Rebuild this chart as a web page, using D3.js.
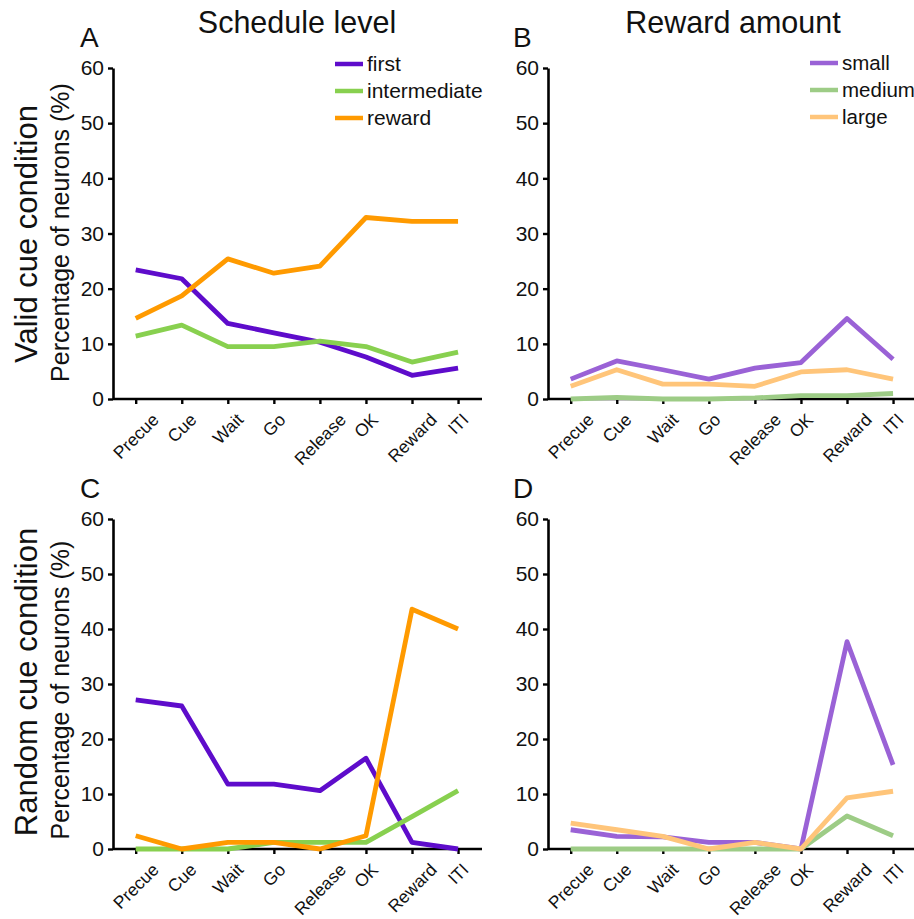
<!DOCTYPE html>
<html>
<head>
<meta charset="utf-8">
<script src="https://cdn.jsdelivr.net/npm/d3@7"></script>
<style>
  html, body { margin: 0; padding: 0; background: #fff; }
  svg { display: block; }
  text { font-family: "Liberation Sans", Arial, Helvetica, sans-serif; fill: #111; }
</style>
</head>
<body>
<svg id="chart" width="914" height="919"></svg>
<script>
// Task epochs along the x axis
const epochs = ["Precue", "Cue", "Wait", "Go", "Release", "OK", "Reward", "ITI"];
const yTicks = [0, 10, 20, 30, 40, 50, 60];

// Schedule-level selectivity (% of neurons)
const scheduleNames = ["first", "intermediate", "reward"];
const validFirst        = [23.4, 21.8, 13.7, 12.0, 10.3, 7.6, 4.3, 5.6];
const validIntermediate = [11.4, 13.4, 9.5, 9.5, 10.5, 9.5, 6.7, 8.5];
const validReward       = [14.6, 18.7, 25.4, 22.8, 24.1, 32.9, 32.2, 32.2];
const randomFirst        = [27.1, 26.0, 11.8, 11.8, 10.6, 16.5, 1.2, 0];
const randomIntermediate = [0, 0, 0, 1.2, 1.2, 1.2, 5.9, 10.6];
const randomReward       = [2.4, 0, 1.2, 1.2, 0, 2.4, 43.6, 40.0];

// Reward-amount selectivity (% of neurons)
const amountNames = ["small", "medium", "large"];
const validSmall  = [3.6, 6.9, 5.3, 3.6, 5.6, 6.6, 14.6, 7.2];
const validMedium = [0, 0.3, 0, 0, 0.2, 0.6, 0.6, 1.0];
const validLarge  = [2.3, 5.3, 2.7, 2.7, 2.3, 4.9, 5.3, 3.6];
const randomSmall  = [3.5, 2.3, 2.2, 1.2, 1.2, 0, 37.7, 15.3];
const randomMedium = [0, 0, 0, 0, 0, 0, 6.0, 2.4];
const randomLarge  = [4.7, 3.5, 2.3, 0, 1.2, 0, 9.3, 10.5];

const scheduleColors = ["#5e0ccb", "#88d04f", "#ff9a00"];
const amountColors   = ["#9a62d6", "#9dcc86", "#ffc57a"];

const panels = [
  { letter: "A", left: 113, right: 482, top: 68, bottom: 399,
    series: [validFirst, validIntermediate, validReward], names: scheduleNames, colors: scheduleColors, legend: { x: 335, y: 64, size: 21 } },
  { letter: "B", left: 548, right: 916, top: 68, bottom: 399,
    series: [validSmall, validMedium, validLarge], names: amountNames, colors: amountColors, legend: { x: 810, y: 63, size: 20.5 } },
  { letter: "C", left: 113, right: 482, top: 519, bottom: 849,
    series: [randomFirst, randomIntermediate, randomReward], names: scheduleNames, colors: scheduleColors, legend: null },
  { letter: "D", left: 548, right: 916, top: 519, bottom: 849,
    series: [randomSmall, randomMedium, randomLarge], names: amountNames, colors: amountColors, legend: null }
];

const labelSize = 17.5;
const svg = d3.select("#chart");

panels.forEach(p => {
  const g = svg.append("g");
  const x = d3.scalePoint().domain(epochs)
    .range([p.left + 22.7, p.left + 22.7 + 7 * 46.05]);
  const y = d3.scaleLinear().domain([0, 60]).range([p.bottom, p.top]);

  // y axis
  const yAxis = g.append("g").attr("transform", `translate(${p.left},0)`)
    .call(d3.axisLeft(y).tickValues(yTicks).tickSize(5).tickPadding(4).tickSizeOuter(0));
  yAxis.select(".domain").attr("stroke", "#000").attr("stroke-width", 2.6);
  yAxis.selectAll(".tick line").attr("stroke", "#000").attr("stroke-width", 2.4);
  yAxis.selectAll(".tick text").attr("font-size", 21).attr("fill", "#111")
    .style("font-family", "'Liberation Sans', Arial, sans-serif");

  // x axis
  const xAxis = g.append("g").attr("transform", `translate(0,${p.bottom})`)
    .call(d3.axisBottom(x).tickSize(5).tickSizeOuter(0).tickFormat(""));
  xAxis.select(".domain").attr("d", `M${p.left},0H${p.right}`)
    .attr("stroke", "#000").attr("stroke-width", 2.6);
  xAxis.selectAll(".tick line").attr("stroke", "#000").attr("stroke-width", 2.4);

  // rotated epoch labels: box centred on the tick, top edge a fixed gap below the axis
  g.append("g").selectAll("text").data(epochs).join("text")
    .attr("text-anchor", "middle")
    .attr("dy", "0.36em")
    .attr("font-size", labelSize)
    .text(d => d)
    .attr("transform", function(d) {
      const len = this.getComputedTextLength();
      const half = (len + 0.72 * labelSize) * Math.SQRT1_2 / 2;
      return `translate(${x(d)},${p.bottom + 13 + half}) rotate(-45)`;
    });

  // data lines
  const line = d3.line().x((d, i) => x(epochs[i])).y(d => y(d));
  p.series.forEach((vals, k) => {
    g.append("path").datum(vals)
      .attr("d", line)
      .attr("fill", "none")
      .attr("stroke", p.colors[k])
      .attr("stroke-width", 4.8)
      .attr("stroke-linejoin", "round");
  });

  // legend
  if (p.legend) {
    const lg = g.append("g").attr("transform", `translate(${p.legend.x},${p.legend.y})`);
    p.names.forEach((n, k) => {
      const row = lg.append("g").attr("transform", `translate(0,${k * 27})`);
      row.append("line").attr("x1", 0).attr("x2", 28).attr("y1", 0).attr("y2", 0)
        .attr("stroke", p.colors[k]).attr("stroke-width", 4.5);
      row.append("text").attr("x", 32).attr("dy", "0.35em").attr("font-size", p.legend.size).text(n);
    });
  }

  // panel letter
  g.append("text").attr("x", p.left - 33 + (p.left > 300 ? -2 : 0)).attr("y", p.top - 21)
    .attr("font-size", 28).text(p.letter);
});

// column titles
svg.append("text").attr("x", 297).attr("y", 33).attr("text-anchor", "middle")
  .attr("font-size", 30.5).text("Schedule level");
svg.append("text").attr("x", 733).attr("y", 33).attr("text-anchor", "middle")
  .attr("font-size", 30.5).text("Reward amount");

// row titles and y-axis titles
const rowLabels = [
  { text: "Valid cue condition", cy: 234, axisCy: 232.5 },
  { text: "Random cue condition", cy: 682, axisCy: 690 }
];
rowLabels.forEach(r => {
  svg.append("text").attr("transform", `translate(37,${r.cy}) rotate(-90)`)
    .attr("text-anchor", "middle").attr("font-size", 31).text(r.text);
  svg.append("text").attr("transform", `translate(69,${r.axisCy}) rotate(-90)`)
    .attr("text-anchor", "middle").attr("font-size", 25).text("Percentage of neurons (%)");
});
</script>
</body>
</html>
